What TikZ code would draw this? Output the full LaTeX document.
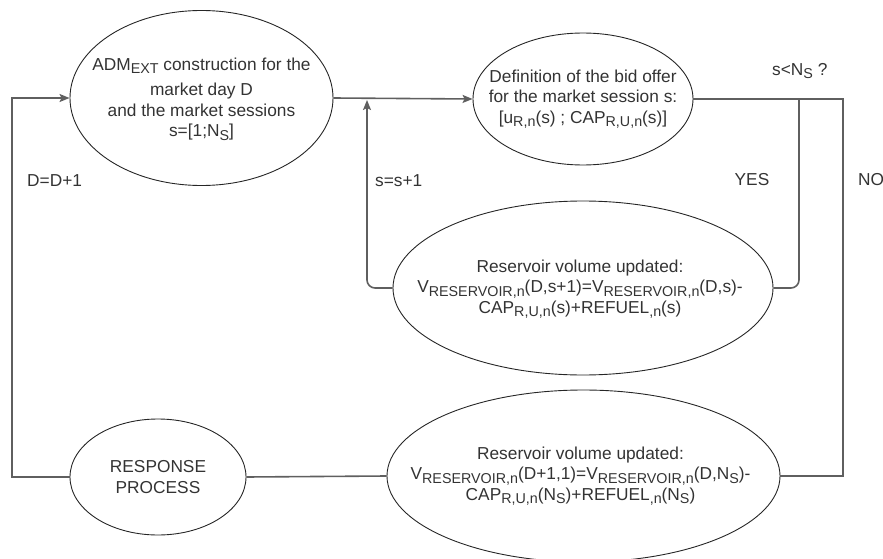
\documentclass[tikz,border=0pt]{standalone}
\usepackage{fontspec}
\setmainfont{Liberation Sans}
\usetikzlibrary{shapes.geometric,arrows.meta}
\newcommand\sbs[1]{\raisebox{-3.5pt}{\fontsize{14.3}{14.3}\selectfont #1}}
\definecolor{txt}{RGB}{51,51,51}
\definecolor{lin}{RGB}{95,95,95}
\begin{document}
\begin{tikzpicture}[x=1pt,y=-1pt,
  every node/.style={text=txt,font=\fontsize{17.3}{20.5}\selectfont},
  bubble/.style={ellipse,draw=black!85,line width=0.9pt,inner sep=0pt},
  btext/.style={inner sep=0pt,align=center},
  conn/.style={draw=lin,line width=1.6pt},
  arr/.style={-{Stealth[length=10pt,width=8pt,inset=2pt]}},
  lbl/.style={inner sep=0pt}]
\useasboundingbox (0,0) rectangle (883,559);
% shapes
\node[bubble,minimum width=263pt,minimum height=175pt] (adm) at (201.5,98) {};
\node[bubble,minimum width=220pt,minimum height=132pt] (def) at (583,99) {};
\node[bubble,minimum width=380pt,minimum height=174pt] (res1) at (583,288) {};
\node[bubble,minimum width=393pt,minimum height=172pt] (res2) at (583.5,476) {};
\node[bubble,minimum width=176pt,minimum height=116pt] (resp) at (158,477) {};
% texts
\node[btext] (admt) at ([yshift=-1pt]adm.center)
  {ADM\sbs{EXT} construction for the\\[5pt]market day D\\and the market sessions\\s=[1;N\sbs{S}]};
\node[btext] (deft) at (def.center)
  {Definition of the bid offer\\for the market session s:\\{}[u\sbs{R,n}(s) ; CAP\sbs{R,U,n}(s)]};
\node[btext] (res1t) at ([xshift=-3pt,yshift=-1pt]res1.center)
  {Reservoir volume updated:\\V\sbs{RESERVOIR,n}(D,s+1)=V\sbs{RESERVOIR,n}(D,s)-\\CAP\sbs{R,U,n}(s)+REFUEL\sbs{,n}(s)};
\node[btext] (res2t) at ([xshift=-3pt]res2.center)
  {Reservoir volume updated:\\V\sbs{RESERVOIR,n}(D+1,1)=V\sbs{RESERVOIR,n}(D,N\sbs{S})-\\CAP\sbs{R,U,n}(N\sbs{S})+REFUEL\sbs{,n}(N\sbs{S})};
\node[btext] (respt) at (resp.center) {RESPONSE\\PROCESS};
% junction coordinates
\coordinate (jL1) at (12,477);
\coordinate (jL2) at (12,98);
\coordinate (jS) at (367,100);
\coordinate (jSb) at (367,288);
\coordinate (jY) at (799,99);
\coordinate (jYb) at (799,288);
\coordinate (jN) at (843,99);
\coordinate (jNb) at (843,476);
% connectors
\draw[conn,arr] (resp.west) -- (jL1) -- (jL2) -- (adm.west);
\draw[conn,arr] (adm.east) -- (def.west);
\draw[conn,arr,rounded corners=8pt] (res1.west) -- (jSb) -- (jS);
\draw[conn] (def.east) -- (jN) -- (jNb) -- (res2.east);
\draw[conn,rounded corners=8pt] (jY) -- (jYb) -- (res1.east);
\draw[conn] (res2.west) -- (resp.east);
% labels
\node[lbl,anchor=west] (ld) at (27,181) {D=D+1};
\node[lbl,anchor=west] (ls) at (375,181) {s=s+1};
\node[lbl] (ly) at (752,180) {YES};
\node[lbl,anchor=west] (ln) at (858,180) {NO};
\node[lbl,anchor=west] (lq) at (772,71) {s<N\sbs{S} ?};
\end{tikzpicture}
\end{document}
